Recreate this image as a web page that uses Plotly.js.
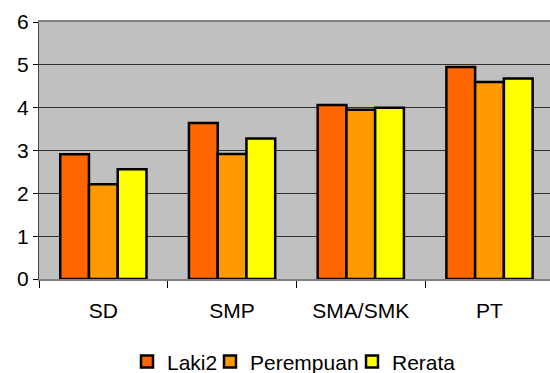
<!DOCTYPE html>
<html>
<head>
<meta charset="utf-8">
<script src="https://cdn.plot.ly/plotly-3.0.1.min.js"></script>
<style>
  html, body { margin: 0; padding: 0; background: #ffffff; }
  #chart { width: 550px; height: 373px; }
</style>
</head>
<body>
<div id="chart"></div>
<script>
// Education levels on the x axis
const categories = ['SD', 'SMP', 'SMA/SMK', 'PT'];

// Scores per group
const laki2 = [2.91, 3.64, 4.06, 4.95];
const perempuan = [2.21, 2.92, 3.95, 4.60];
const rerata = [2.56, 3.28, 4.00, 4.68];

const yTicks = [0, 1, 2, 3, 4, 5, 6];

const font = { family: '"Liberation Sans", Arial, sans-serif', size: 21, color: '#000000' };

function barTrace(name, values, color, legendId) {
  return {
    type: 'bar',
    name: name,
    x: categories,
    y: values,
    legend: legendId,
    marker: { color: color, line: { color: '#000000', width: 2.5 } },
    hoverinfo: 'x+y+name'
  };
}

const data = [
  barTrace('Laki2', laki2, '#FF6600', 'legend'),
  barTrace('Perempuan', perempuan, '#FF9900', 'legend2'),
  barTrace('Rerata', rerata, '#FFFF00', 'legend3')
];

// one single-entry legend per series, laid out in a row under the axis
function legendBox(xFrac) {
  return {
    orientation: 'h',
    xref: 'container',
    x: xFrac,
    xanchor: 'left',
    yref: 'container',
    y: 0.03,
    yanchor: 'middle',
    font: font,
    bgcolor: 'rgba(0,0,0,0)'
  };
}

const layout = {
  width: 550,
  height: 373,
  margin: { l: 39, r: 0, t: 22, b: 94, autoexpand: false },
  paper_bgcolor: '#ffffff',
  plot_bgcolor: '#C0C0C0',
  font: font,
  barmode: 'group',
  bargap: 0.33,
  bargroupgap: 0,
  showlegend: true,
  legend: legendBox(127 / 550),
  legend2: legendBox(210 / 550),
  legend3: legendBox(352 / 550),
  xaxis: {
    type: 'category',
    range: [-0.5, 3.47],
    showgrid: false,
    showline: true,
    linecolor: '#808080',
    linewidth: 2,
    mirror: true,
    ticks: 'outside',
    tickson: 'boundaries',
    ticklen: 7,
    tickcolor: '#000000',
    tickwidth: 1,
    ticklabelstandoff: 12,
    tickfont: font,
    fixedrange: true
  },
  yaxis: {
    range: [0, 6],
    tickvals: yTicks,
    ticktext: yTicks.map(String),
    showgrid: true,
    gridcolor: '#303030',
    gridwidth: 1,
    zeroline: false,
    showline: true,
    linecolor: '#404040',
    linewidth: 1,
    ticks: 'outside',
    ticklen: 5,
    tickcolor: '#000000',
    tickfont: font,
    fixedrange: true
  }
};

Plotly.newPlot('chart', data, layout, { displayModeBar: false, staticPlot: true });
</script>
</body>
</html>
